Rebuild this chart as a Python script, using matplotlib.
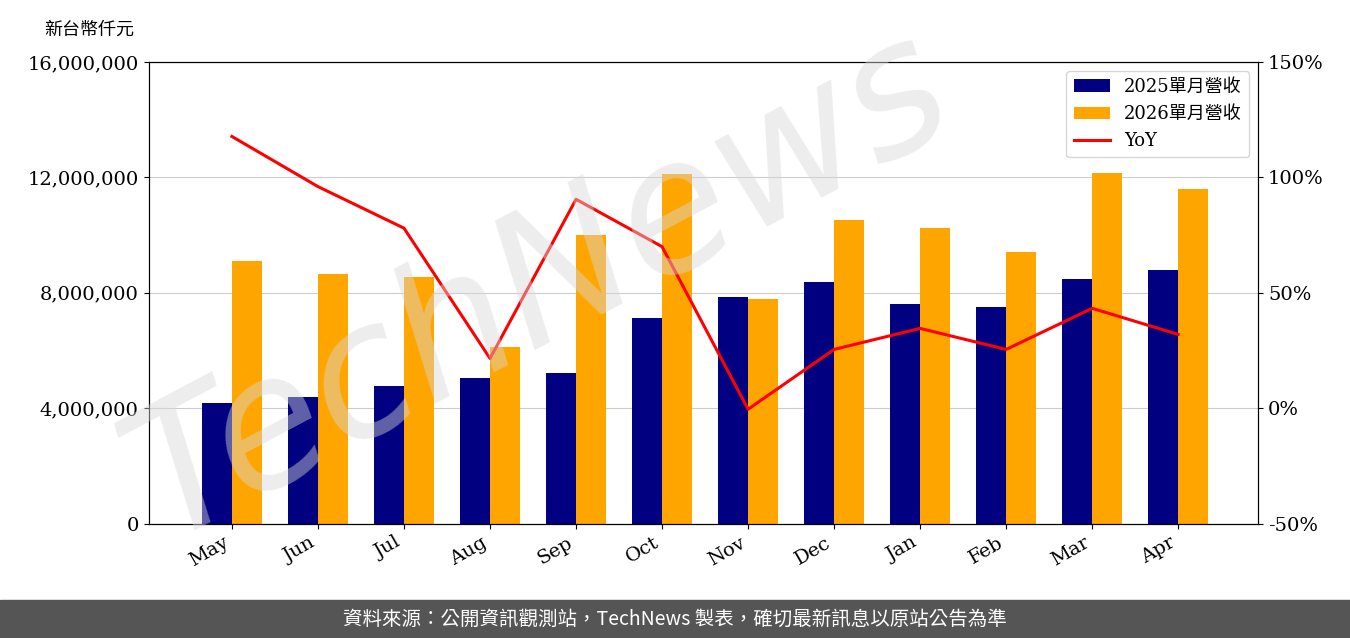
import matplotlib.pyplot as plt
import numpy as np
from matplotlib.ticker import FuncFormatter

plt.rcParams['font.family'] = ['DejaVu Serif', 'Noto Sans CJK TC']

months = ["May", "Jun", "Jul", "Aug", "Sep", "Oct", "Nov", "Dec", "Jan", "Feb", "Mar", "Apr"]
rev_2025 = [4190000, 4400000, 4780000, 5060000, 5230000, 7130000,
            7860000, 8380000, 7620000, 7520000, 8480000, 8800000]
rev_2026 = [9110000, 8660000, 8550000, 6130000, 10010000, 12120000,
            7790000, 10530000, 10250000, 9420000, 12160000, 11600000]
yoy = [117.7, 96.0, 78.0, 21.6, 90.5, 70.0, -0.4, 25.5, 34.6, 25.5, 43.3, 32.0]

fig = plt.figure(figsize=(13.5, 6.38), dpi=100)
ax = fig.add_axes([0.11, 0.179, 0.822, 0.724])
x = np.arange(len(months))
w = 0.35
ax.bar(x - w / 2, rev_2025, w, color="#000080", label="2025單月營收", zorder=2)
ax.bar(x + w / 2, rev_2026, w, color="#FFA500", label="2026單月營收", zorder=2)
ax.set_ylim(0, 16000000)
ax.set_yticks(np.arange(0, 16000001, 4000000))
ax.yaxis.set_major_formatter(FuncFormatter(lambda v, p: f"{int(v):,}"))
ax.grid(axis="y", color="#cccccc", zorder=0)
ax.set_xticks(x)
ax.set_xticklabels(months, rotation=30, ha="right")
ax.set_xlim(-0.97, 11.93)
ax.tick_params(labelsize=14)

ax2 = ax.twinx()
ax2.plot(x, yoy, color="red", lw=2.2, label="YoY")
ax2.set_ylim(-50, 150)
ax2.set_yticks(np.arange(-50, 151, 50))
ax2.yaxis.set_major_formatter(FuncFormatter(lambda v, p: f"{int(v)}%"))
ax2.tick_params(labelsize=14)

h1, l1 = ax.get_legend_handles_labels()
h2, l2 = ax2.get_legend_handles_labels()
ax2.legend(h1 + h2, l1 + l2, loc="upper right",
           prop={'family': ['DejaVu Serif', 'Noto Sans CJK TC'], 'size': 13})

fig.text(0.033, 0.945, "新台幣仟元", fontsize=13, family="Noto Sans CJK TC")
fig.text(0.4, 0.55, "TechNews", fontsize=130, rotation=28, color="#d8d8d8",
         alpha=0.45, ha="center", va="center", family="DejaVu Sans", style="italic")

fig.patches.append(plt.Rectangle((0, 0), 1, 0.06, transform=fig.transFigure,
                                 color="#555555", zorder=0))
fig.text(0.5, 0.03, "資料來源：公開資訊觀測站，TechNews 製表，確切最新訊息以原站公告為準",
         color="white", fontsize=14, ha="center", va="center", family="Noto Sans CJK TC")

fig.savefig("out.png")
